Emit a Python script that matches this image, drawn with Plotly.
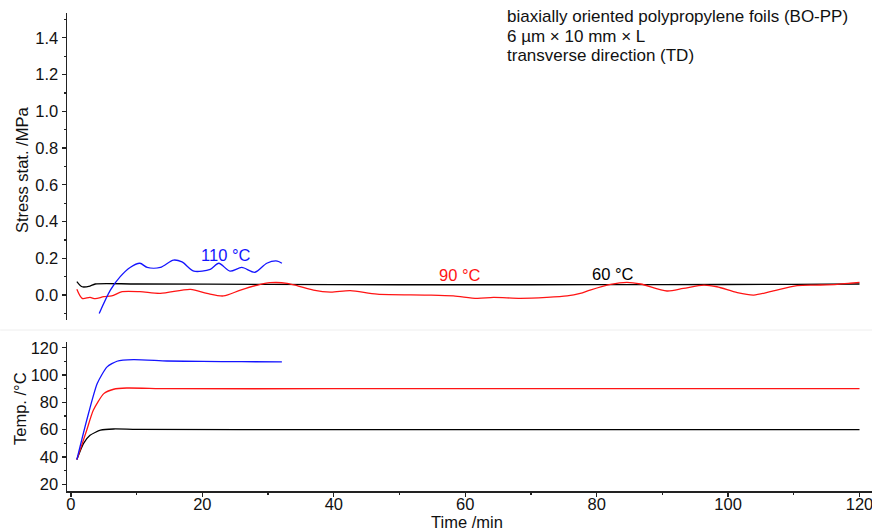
import plotly.graph_objects as go

# ---- Stress data (MPa) vs time (min) ----
t_stress_110 = [4.3, 6.0, 7.5, 9.0, 10.5, 11.6, 13.6, 15.6, 16.9, 18.7, 21.2, 22.5, 24.2, 26.0, 28.0, 29.8, 31.4, 32.1]
s_stress_110 = [-0.10, 0.027, 0.10, 0.15, 0.173, 0.15, 0.15, 0.19, 0.18, 0.13, 0.14, 0.173, 0.13, 0.15, 0.124, 0.173, 0.185, 0.173]

t_stress_90 = [0.9, 1.7, 2.9, 3.7, 5.0, 6.2, 7.8, 10.5, 13.6, 18.2, 20.7, 23.2, 25.8, 28.3, 30.3, 32.9, 34.6,
               36.9, 39.5, 42.5, 46.6, 54.2, 58.2, 61.8, 64.3, 68.4, 72.4, 75.5, 77.5, 79.0, 82.1, 84.6, 86.7,
               90.7, 93.2, 96.3, 98.3, 101.4, 103.9, 106.4, 110.5, 113.5, 116.6, 118.6, 120.0]
s_stress_90 = [0.031, -0.018, -0.013, -0.02, -0.009, -0.005, 0.018, 0.018, 0.009, 0.031, 0.009, -0.005, 0.027, 0.053, 0.067, 0.064, 0.049,
               0.027, 0.016, 0.024, 0.005, 0.0, -0.005, -0.018, -0.013, -0.018, -0.013, -0.005, 0.009, 0.027, 0.058, 0.069, 0.06,
               0.022, 0.036, 0.054, 0.045, 0.013, 0.0, 0.018, 0.051, 0.054, 0.058, 0.064, 0.069]

t_stress_60 = [0.9, 1.7, 2.9, 3.7, 10.0, 30.0, 50.0, 70.0, 90.0, 110.0, 120.0]
s_stress_60 = [0.073, 0.045, 0.049, 0.06, 0.06, 0.058, 0.056, 0.056, 0.057, 0.058, 0.06]

# ---- Temperature data (°C) vs time (min) ----
t_temp_110 = [0.9, 2.4, 4.0, 5.5, 7.0, 9.5, 14.6, 20.0, 26.0, 32.1]
T_temp_110 = [38.1, 66.9, 93.8, 106.0, 110.1, 111.3, 110.3, 110.0, 109.8, 109.6]

t_temp_90 = [0.9, 2.4, 3.4, 5.0, 6.5, 8.5, 14.6, 40.0, 80.0, 120.0]
T_temp_90 = [38.1, 59.6, 74.2, 86.4, 89.6, 90.5, 90.0, 90.0, 90.0, 90.0]

t_temp_60 = [0.9, 1.9, 2.9, 4.5, 6.5, 10.0, 40.0, 80.0, 120.0]
T_temp_60 = [38.1, 49.8, 55.9, 59.6, 60.5, 60.2, 60.0, 60.0, 60.0]

labels = ["110 °C", "90 °C", "60 °C"]
label_x = [23.5, 59.2, 82.5]
label_y = [0.218, 0.109, 0.113]
colors = ["#1414ff", "#ff1414", "#000000"]

info_lines = ["biaxially oriented polypropylene foils (BO-PP)",
              "6 µm × 10 mm × L",
              "transverse direction (TD)"]

stress_title = "Stress stat. /MPa"
temp_title = "Temp. /°C"
time_title = "Time /min"

FONT = "Liberation Sans, Arial, sans-serif"
FS = 16.5

fig = go.Figure()

# Top panel: stress
for tx, sy, c in [(t_stress_60, s_stress_60, colors[2]),
                  (t_stress_90, s_stress_90, colors[1]),
                  (t_stress_110, s_stress_110, colors[0])]:
    fig.add_trace(go.Scatter(x=tx, y=sy, mode="lines", line=dict(color=c, width=1.3, shape="spline", smoothing=0.8),
                             xaxis="x2", yaxis="y2", showlegend=False, hoverinfo="skip"))

# Bottom panel: temperature
for tx, ty, c in [(t_temp_60, T_temp_60, colors[2]),
                  (t_temp_90, T_temp_90, colors[1]),
                  (t_temp_110, T_temp_110, colors[0])]:
    fig.add_trace(go.Scatter(x=tx, y=ty, mode="lines", line=dict(color=c, width=1.3, shape="spline", smoothing=0.6),
                             xaxis="x", yaxis="y", showlegend=False, hoverinfo="skip"))

axis_common = dict(showline=True, linecolor="#222222", linewidth=1.5, ticks="outside", ticklen=4,
                   tickwidth=1.2, tickcolor="#222222", showgrid=False, zeroline=False, automargin=False,
                   ticklabeloverflow="allow",
                   tickfont=dict(family=FONT, size=FS, color="#111111"))

fig.update_layout(
    width=872, height=530,
    margin=dict(l=67, r=0, t=13, b=39),
    paper_bgcolor="white", plot_bgcolor="white",
    font=dict(family=FONT, size=FS, color="#111111"),
    xaxis=dict(domain=[0, 1], range=[-0.6, 121.9], anchor="y", dtick=20, tick0=0,
               ticklabelstandoff=-6,
               minor=dict(ticks="outside", ticklen=2, dtick=10, tickcolor="#222222"),
               **axis_common),
    yaxis=dict(domain=[0, 0.3123], range=[15.1, 124.4], anchor="x", dtick=20, tick0=0,
               minor=dict(ticks="outside", ticklen=2, dtick=10, tickcolor="#222222"),
               **axis_common),
    xaxis2=dict(domain=[0, 1], range=[-0.6, 121.9], anchor="y2", matches="x", visible=False),
    yaxis2=dict(domain=[0.3577, 1], range=[-0.136, 1.535], anchor="x2", dtick=0.2, tick0=0,
                tickformat=".1f",
                minor=dict(ticks="outside", ticklen=2, dtick=0.1, tickcolor="#222222"),
                **axis_common),
)

# Axis titles
fig.add_annotation(x=-0.0559, y=0.6715, xref="paper", yref="paper", text=stress_title, textangle=-90,
                   showarrow=False, xanchor="center", yanchor="middle", font=dict(family=FONT, size=FS))
fig.add_annotation(x=-0.0584, y=0.1736, xref="paper", yref="paper", text=temp_title, textangle=-90,
                   showarrow=False, xanchor="center", yanchor="middle", font=dict(family=FONT, size=FS))
fig.add_annotation(x=0.4969, y=-0.0642, xref="paper", yref="paper", text=time_title,
                   showarrow=False, xanchor="center", yanchor="middle", font=dict(family=FONT, size=FS))

for txt, x, y, c in zip(labels, label_x, label_y, colors):
    fig.add_annotation(x=x, y=y, xref="x2", yref="y2", text=txt, showarrow=False,
                       font=dict(family=FONT, size=FS, color=c))

info_y_pix = [16.5, 36, 55.5]
for line, yp in zip(info_lines, info_y_pix):
    fig.add_annotation(x=(505 - 67) / 805, y=(491 - yp) / 478, xref="paper", yref="paper", text=line,
                       showarrow=False, xanchor="left", yanchor="middle", align="left",
                       font=dict(family=FONT, size=17, color="#111111"))

fig.add_shape(type="line", xref="paper", yref="paper", x0=-0.083, x1=1.0, y0=0.3368, y1=0.3368,
              line=dict(color="#eeeeee", width=1))

# Remove the default page margin so the 872x530 figure fills the window exactly.
fig.write_html("out.html",
               config={"displayModeBar": False, "staticPlot": True},
               post_script="document.body.style.margin='0';document.body.style.overflow='hidden';")
